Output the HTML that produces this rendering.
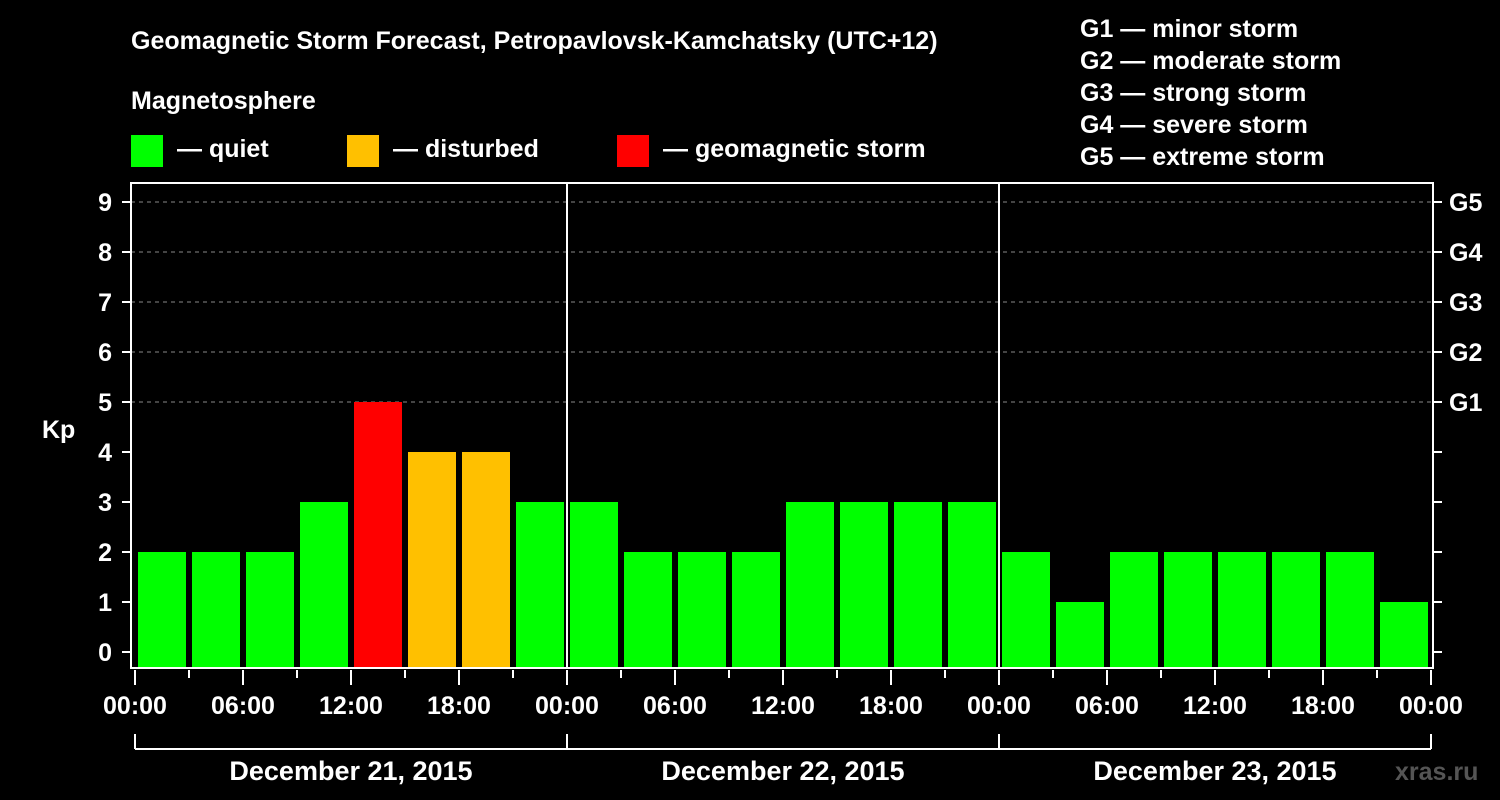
<!DOCTYPE html>
<html><head><meta charset="utf-8"><style>
body{margin:0;background:#000;}
svg{display:block;font-family:"Liberation Sans",Arial,sans-serif;font-weight:bold;}
</style></head><body>
<svg id="c" width="1500" height="800" viewBox="0 0 1500 800">
<rect width="1500" height="800" fill="#000"/>
<text x="131" y="49" fill="#fff" font-size="25">Geomagnetic Storm Forecast, Petropavlovsk-Kamchatsky (UTC+12)</text>
<text x="131" y="109" fill="#fff" font-size="25">Magnetosphere</text>
<g><rect x="131" y="135" width="32" height="32" fill="#00ff00"/><text x="177" y="157" fill="#fff" font-size="25">— quiet</text></g>
<g><rect x="347" y="135" width="32" height="32" fill="#ffc000"/><text x="393" y="157" fill="#fff" font-size="25">— disturbed</text></g>
<g><rect x="617" y="135" width="32" height="32" fill="#ff0000"/><text x="663" y="157" fill="#fff" font-size="25">— geomagnetic storm</text></g>
<g fill="#fff" font-size="25">
<text x="1080" y="37">G1 — minor storm</text>
<text x="1080" y="69">G2 — moderate storm</text>
<text x="1080" y="101">G3 — strong storm</text>
<text x="1080" y="133">G4 — severe storm</text>
<text x="1080" y="165">G5 — extreme storm</text>
</g>
<text x="42" y="438" fill="#fff" font-size="25">Kp</text>
<g id="grid"></g><g id="bars"></g><g id="axes"></g>
<text x="1395" y="780" fill="#555" font-size="25">xras.ru</text>
</svg>
<script>
const days = ["December 21, 2015","December 22, 2015","December 23, 2015"];
const kpValues = [2,2,2,3,5,4,4,3, 3,2,2,2,3,3,3,3, 2,1,2,2,2,2,2,1];
const yTicks = [0,1,2,3,4,5,6,7,8,9];
const gLabels = {5:"G1",6:"G2",7:"G3",8:"G4",9:"G5"};
const hourLabels = ["00:00","06:00","12:00","18:00"];
const NS="http://www.w3.org/2000/svg";
const L=131,R=1433,T=183,B=668,X0=135,DAYW=432;
const y=v=>652-v*50;
const x=h=>X0+h*DAYW/24;
function mk(t,a,p){const e=document.createElementNS(NS,t);for(const k in a)e.setAttribute(k,a[k]);p.appendChild(e);return e;}
const grid=document.getElementById('grid'),bars=document.getElementById('bars'),axes=document.getElementById('axes');
yTicks.forEach(v=>{
 if(v>=5){const g=mk('line',{x1:L,x2:R,y1:y(v),y2:y(v),stroke:'#888','stroke-dasharray':'4,4','stroke-width':1},grid);
 
 }
 mk('line',{x1:122,x2:L,y1:y(v),y2:y(v),stroke:'#fff','stroke-width':2},axes);
 mk('line',{x1:R,x2:1442,y1:y(v),y2:y(v),stroke:'#fff','stroke-width':2},axes);
 const t=mk('text',{x:112,y:y(v)+9,fill:'#fff','font-size':25,'text-anchor':'end'},axes);t.textContent=v;
 
 
 if(gLabels[v]){const g=mk('text',{x:1449,y:y(v)+9,fill:'#fff','font-size':25},axes);g.textContent=gLabels[v];
 
 }
});
kpValues.forEach((v,i)=>{
 const c=v>=5?'#ff0000':(v>=4?'#ffc000':'#00ff00');
 const r=mk('rect',{x:x(i*3)+3,y:y(v),width:48,height:B-y(v),fill:c},bars);
 
 
});
const f=mk('rect',{x:L,y:T,width:R-L,height:B-T,fill:'none',stroke:'#fff','stroke-width':2},axes);


for(let d=1;d<days.length;d++) mk('line',{x1:x(d*24),x2:x(d*24),y1:T,y2:B,stroke:'#fff','stroke-width':2},axes);
for(let h=0;h<=72;h+=3){
 mk('line',{x1:x(h),x2:x(h),y1:B+2,y2:h%6==0?B+17:B+10,stroke:'#fff','stroke-width':2},axes);
 if(h%6==0){const t=mk('text',{x:x(h),y:714,fill:'#fff','font-size':25,'text-anchor':'middle'},axes);t.textContent=hourLabels[(h/6)%4];
 
 }
}
mk('line',{x1:x(0),x2:x(72),y1:749,y2:749,stroke:'#fff','stroke-width':2},axes);
for(let d=0;d<=days.length;d++) mk('line',{x1:x(d*24),x2:x(d*24),y1:734,y2:749,stroke:'#fff','stroke-width':2},axes);
days.forEach((s,d)=>{const t=mk('text',{x:x(d*24+12),y:780,fill:'#fff','font-size':27,'text-anchor':'middle'},axes);t.textContent=s;
 
 });
</script>
</body></html>
